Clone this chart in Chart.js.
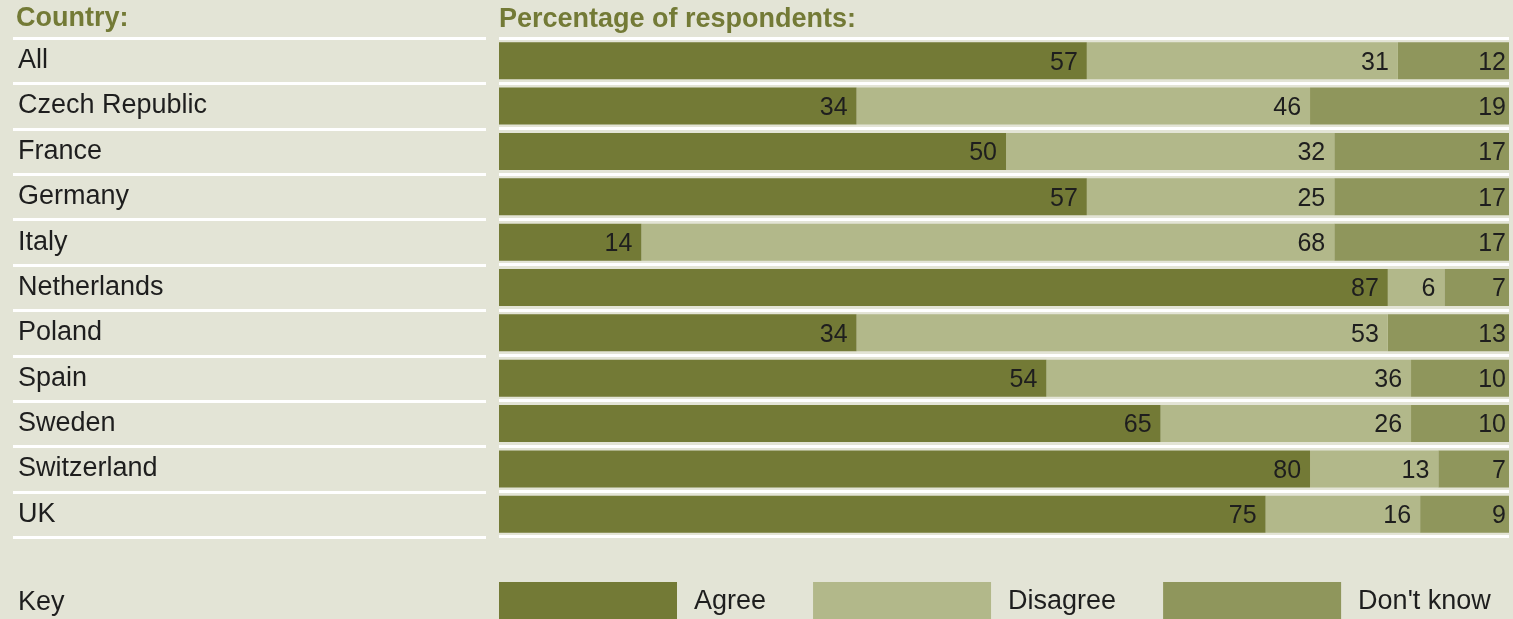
<!DOCTYPE html>
<html>
<head>
<meta charset="utf-8">
<title>Percentage of respondents</title>
<script src="https://cdn.jsdelivr.net/npm/chart.js"></script>
<style>
body{margin:0;background:#e3e4d6;}
canvas{display:block;}
</style>
</head>
<body>
<canvas id="surveyChart" width="1513" height="619"></canvas>
<script>

let countries = ["All","Czech Republic","France","Germany","Italy","Netherlands","Poland","Spain","Sweden","Switzerland","UK"]

// numbers printed on the bars
let agreeLabels = [57,34,50,57,14,87,34,54,65,80,75]
let disagreeLabels = [31,46,32,25,68,6,53,36,26,13,16]
let dontKnowLabels = [12,19,17,17,17,7,13,10,10,7,9]

// bar lengths (%) as drawn - the original graphic doesn't match its own numbers exactly
let agree = [58.2,35.4,50.2,58.2,14.1,88.0,35.4,54.2,65.5,80.3,75.9]
let disagree = [30.8,44.9,32.5,24.5,68.6,5.6,52.6,36.1,24.8,12.7,15.3]
let dontKnow = [11.0,19.7,17.3,17.3,17.3,6.4,12.0,9.7,9.7,7.0,8.8]

let font = "'Liberation Sans', Arial, sans-serif"
let textColor = "#1e1e1e"
let olive = "#737a36"

let decorations = {
id:"decorations",

beforeDatasetsDraw(chart){
let ctx = chart.ctx
let y = chart.scales.y
let band = y.height / countries.length

// white rules in the country column
ctx.save()
ctx.strokeStyle = "#ffffff"
ctx.lineWidth = 3
for(let i=0;i<=countries.length;i++){
let py = Math.round(y.top + band*i) + 0.5
ctx.beginPath()
ctx.moveTo(13,py)
ctx.lineTo(486,py)
ctx.stroke()
}
ctx.restore()
},

afterDatasetsDraw(chart){
let ctx = chart.ctx
let area = chart.chartArea

ctx.save()
ctx.font = "25px " + font
ctx.fillStyle = textColor
ctx.textAlign = "right"
ctx.textBaseline = "middle"

chart.data.datasets.forEach((ds,d)=>{
let meta = chart.getDatasetMeta(d)
meta.data.forEach((bar,i)=>{
let pad = d === 2 ? 3 : 9
ctx.fillText(ds.printed[i], bar.x - pad, bar.y + 2)
})
})

// column header on the left
ctx.textAlign = "left"
ctx.fillStyle = olive
ctx.font = "bold 27px " + font
ctx.fillText("Country:", 16, 19)

// key
let keyY = area.bottom + 65
ctx.fillStyle = textColor
ctx.font = "27px " + font
ctx.fillText("Key", 18, keyY + 1)

let x = area.left
chart.data.datasets.forEach(ds=>{
ctx.fillStyle = ds.backgroundColor
ctx.fillRect(x, area.bottom + 45, 178, 37)
ctx.fillStyle = textColor
ctx.fillText(ds.label, x + 195, keyY)
x += 195 + ctx.measureText(ds.label).width + 47
})

ctx.restore()
}
}

new Chart(document.getElementById("surveyChart"),{

type:"bar",

data:{
labels:countries,
datasets:[
{label:"Agree", data:agree, printed:agreeLabels, backgroundColor:"#737a36"},
{label:"Disagree", data:disagree, printed:disagreeLabels, backgroundColor:"#b2b88a"},
{label:"Don't know", data:dontKnow, printed:dontKnowLabels, backgroundColor:"#8f965c"}
]
},

options:{
indexAxis:"y",
responsive:false,
animation:false,
layout:{
padding:{left:18, right:4, top:0, bottom:82}
},
datasets:{
bar:{
categoryPercentage:1,
barPercentage:0.816,
borderWidth:0
}
},
scales:{
x:{
stacked:true,
min:0,
max:100,
display:false
},
y:{
stacked:true,
afterFit(scale){ scale.width = 481 },
border:{display:false},
grid:{
offset:true,
color:"#ffffff",
lineWidth:3,
drawTicks:false
},
ticks:{
crossAlign:"far",
color:textColor,
font:{family:font, size:27}
}
}
},
plugins:{
legend:{display:false},
tooltip:{enabled:false},
title:{
display:true,
text:"Percentage of respondents:",
align:"start",
fullSize:false,
color:olive,
font:{family:font, size:27, weight:"bold"},
padding:{top:3, bottom:2.6}
}
}
},

plugins:[decorations]

})

</script>
</body>
</html>
